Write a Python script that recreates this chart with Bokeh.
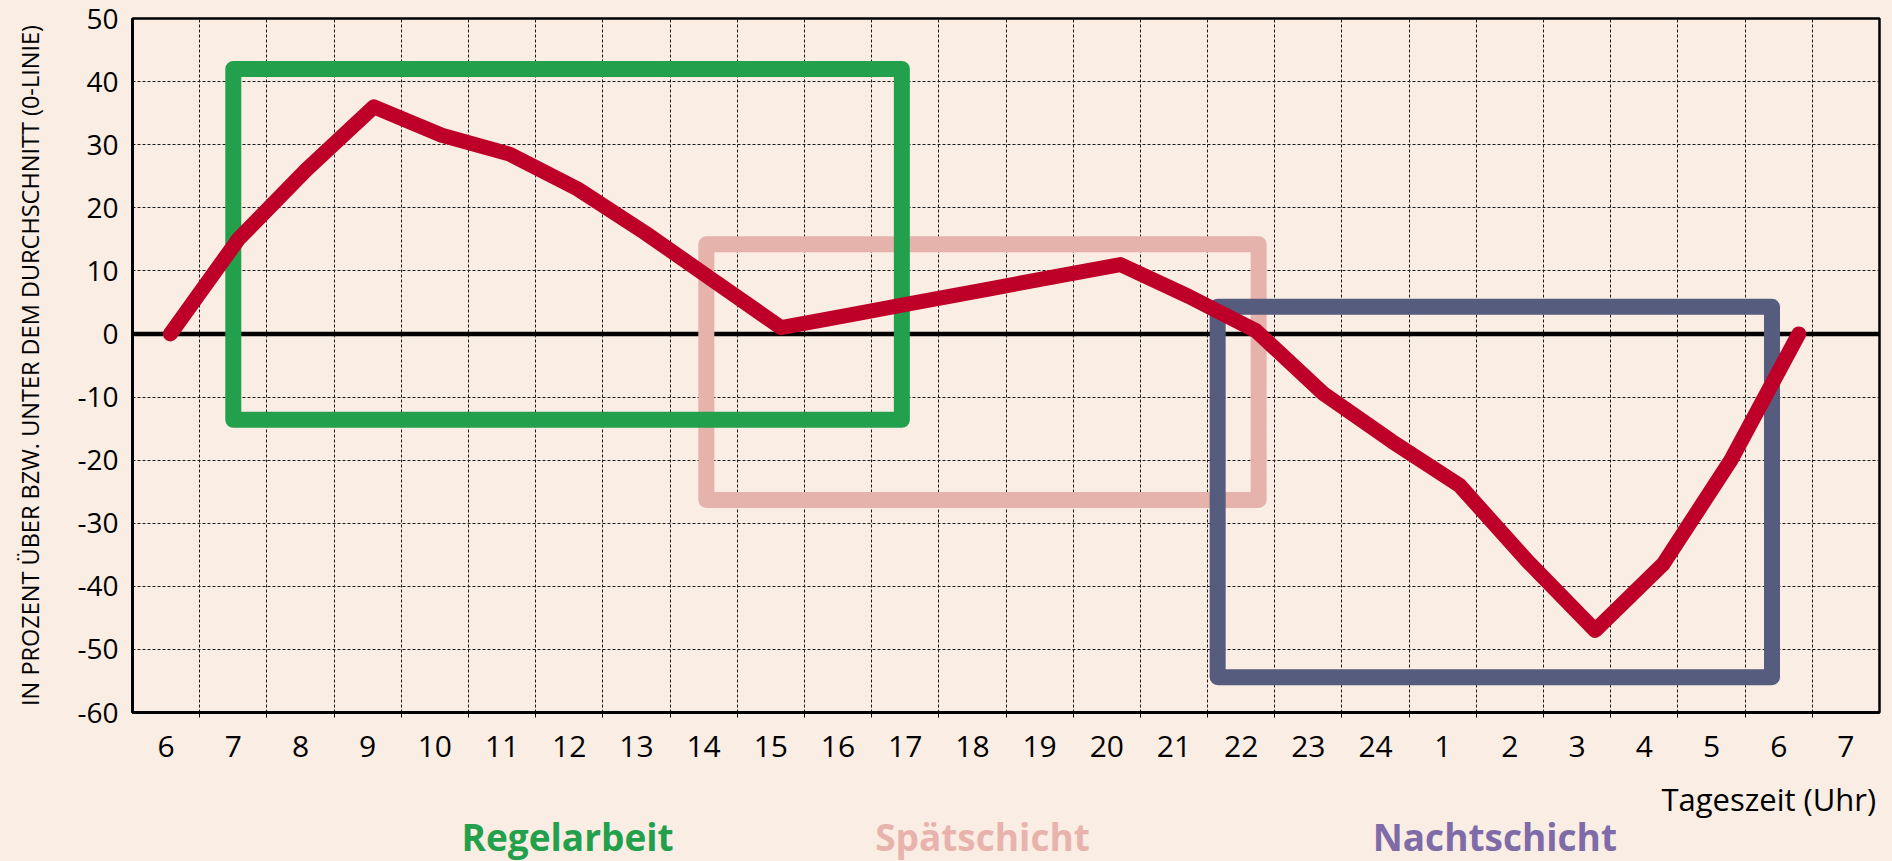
from bokeh.plotting import figure
from bokeh.layouts import column
from bokeh.models import Range1d, FixedTicker, Span, GlobalInlineStyleSheet, ColumnDataSource
from bokeh.core.properties import value
from bokeh.embed import file_html
from bokeh.resources import INLINE

# ---------------- data ----------------
hour_labels = ["6", "7", "8", "9", "10", "11", "12", "13", "14", "15", "16", "17", "18",
               "19", "20", "21", "22", "23", "24", "1", "2", "3", "4", "5", "6", "7"]
# deviation (in %) from the daily average, one value per hour from 6 h to 6 h
deviation = [0, 15, 26, 36, 31.5, 28.5, 23, 16, 8.5, 1, 3, 5, 7, 9, 11, 6, 0.5,
             -9.5, -17, -24, -36, -47, -36.5, -20, 0]

y_ticks = [-60, -50, -40, -30, -20, -10, 0, 10, 20, 30, 40, 50]

# shift boxes (x in hour-cell index, 0 = "6"; y in %)
shift_names = ["Regelarbeit", "Spätschicht", "Nachtschicht"]
shift_start = [1.0, 8.04, 15.65]
shift_end = [10.95, 16.26, 23.9]
shift_top = [42.0, 14.2, 4.3]
shift_bottom = [-13.6, -26.3, -54.4]
shift_box_colors = ["#23A04B", "#E5B2AC", "#565C7E"]
shift_text_colors = ["#23A04B", "#E8B3AD", "#7E6BA7"]

x_title = "Tageszeit (Uhr)"
y_title = "IN PROZENT ÜBER BZW. UNTER DEM DURCHSCHNITT (0-LINIE)"

BG = "#FAEDE4"
FONT = "Open Sans"

W = 1892
LEFT, RIGHT, TOP = 132, 13, 18
FRAME_W = W - LEFT - RIGHT
FRAME_H = 694
BOTTOM = 66
H1 = TOP + FRAME_H + BOTTOM
H2 = 861 - H1

p = figure(title=None, width=W, height=H1, frame_width=FRAME_W, frame_height=FRAME_H,
           output_backend="svg", toolbar_location=None,
           x_range=Range1d(-0.5, len(hour_labels) - 0.5), y_range=Range1d(-60, 50),
           min_border_left=LEFT, min_border_right=RIGHT, min_border_top=TOP,
           min_border_bottom=BOTTOM,
           background_fill_color=BG, border_fill_color=BG, outline_line_color="black",
           outline_line_width=2.5)

# secondary range used by the data series (original chart spaces its points slightly wider)
p.extra_x_ranges = {"series": Range1d(-0.5585, 25.19)}

# axes
xa = p.xaxis[0]
xa.ticker = FixedTicker(ticks=list(range(len(hour_labels))),
                        minor_ticks=[i + 0.5 for i in range(len(hour_labels) - 1)])
xa.major_label_overrides = {i: s for i, s in enumerate(hour_labels)}
xa.major_tick_line_color = None
xa.major_tick_out = 0
xa.major_tick_in = 0
xa.minor_tick_line_color = "black"
xa.minor_tick_in = 0
xa.minor_tick_out = 5
xa.axis_line_width = 3
xa.major_label_text_font = FONT
xa.major_label_text_font_size = "30px"
xa.major_label_text_color = "black"
xa.major_label_standoff = 18

ya = p.yaxis[0]
ya.ticker = FixedTicker(ticks=y_ticks)
ya.major_label_overrides = {t: str(t) for t in y_ticks}
ya.major_tick_line_color = None
ya.major_tick_out = 0
ya.major_tick_in = 0
ya.minor_tick_line_color = None
ya.axis_line_width = 3
ya.major_label_text_font = FONT
ya.major_label_text_font_size = "28px"
ya.major_label_text_color = "black"
ya.major_label_standoff = 14
ya.axis_label = y_title
ya.axis_label_text_font = FONT
ya.axis_label_text_font_size = "23.5px"
ya.axis_label_text_font_style = "normal"
ya.axis_label_text_color = "black"
ya.axis_label_standoff = 28

# grids
p.xgrid.ticker = FixedTicker(ticks=[i + 0.5 for i in range(len(hour_labels) - 1)])
p.ygrid.ticker = FixedTicker(ticks=[t for t in y_ticks if t not in (0, -60, 50)])
for g in (p.xgrid, p.ygrid):
    g.grid_line_color = "#1a1a1a"
    g.grid_line_width = 1
    g.grid_line_dash = "3 2"

# zero line
p.add_layout(Span(location=0, dimension="width", line_color="black", line_width=4.5,
                  level="underlay"))

# shift boxes (pink below green, navy on top)
for i in (1, 0, 2):
    p.quad(left=[shift_start[i]], right=[shift_end[i]], top=[shift_top[i]],
           bottom=[shift_bottom[i]], fill_color=None, line_color=shift_box_colors[i],
           line_width=16, line_join="round")

# data line
p.line(x=list(range(len(deviation))), y=deviation, x_range_name="series",
       line_color="#BE0028", line_width=15, line_join="round", line_cap="round")

# ---------- lower strip with the axis title and shift names ----------
p2 = figure(title=None, width=W, height=H2, frame_width=FRAME_W, frame_height=H2,
            output_backend="svg", toolbar_location=None,
            x_range=p.x_range, y_range=Range1d(0, H2),
            min_border_left=LEFT, min_border_right=RIGHT, min_border_top=0,
            min_border_bottom=0, background_fill_color=BG, border_fill_color=BG,
            outline_line_color=None)
p2.axis.visible = False
p2.grid.visible = False

label_src = ColumnDataSource(dict(
    x=[(s + e) / 2 for s, e in zip(shift_start, shift_end)],
    y=[25, 25, 25],
    text=shift_names,
    color=shift_text_colors,
))
p2.text(x="x", y="y", text="text", text_color="color", source=label_src,
        text_align="center", text_baseline="alphabetic",
        text_font=value(FONT), text_font_style="bold", text_font_size="37px")
p2.text(x=[len(hour_labels) - 0.55], y=[63], text=[x_title], text_align="right",
        text_baseline="alphabetic", text_font=value(FONT), text_font_size="31px",
        text_color="black")

layout = column(p, p2, spacing=0)
layout.stylesheets = [GlobalInlineStyleSheet(css="html, body { background: %s; margin: 0; }" % BG)]

open("out.html", "w").write(file_html(layout, INLINE))
